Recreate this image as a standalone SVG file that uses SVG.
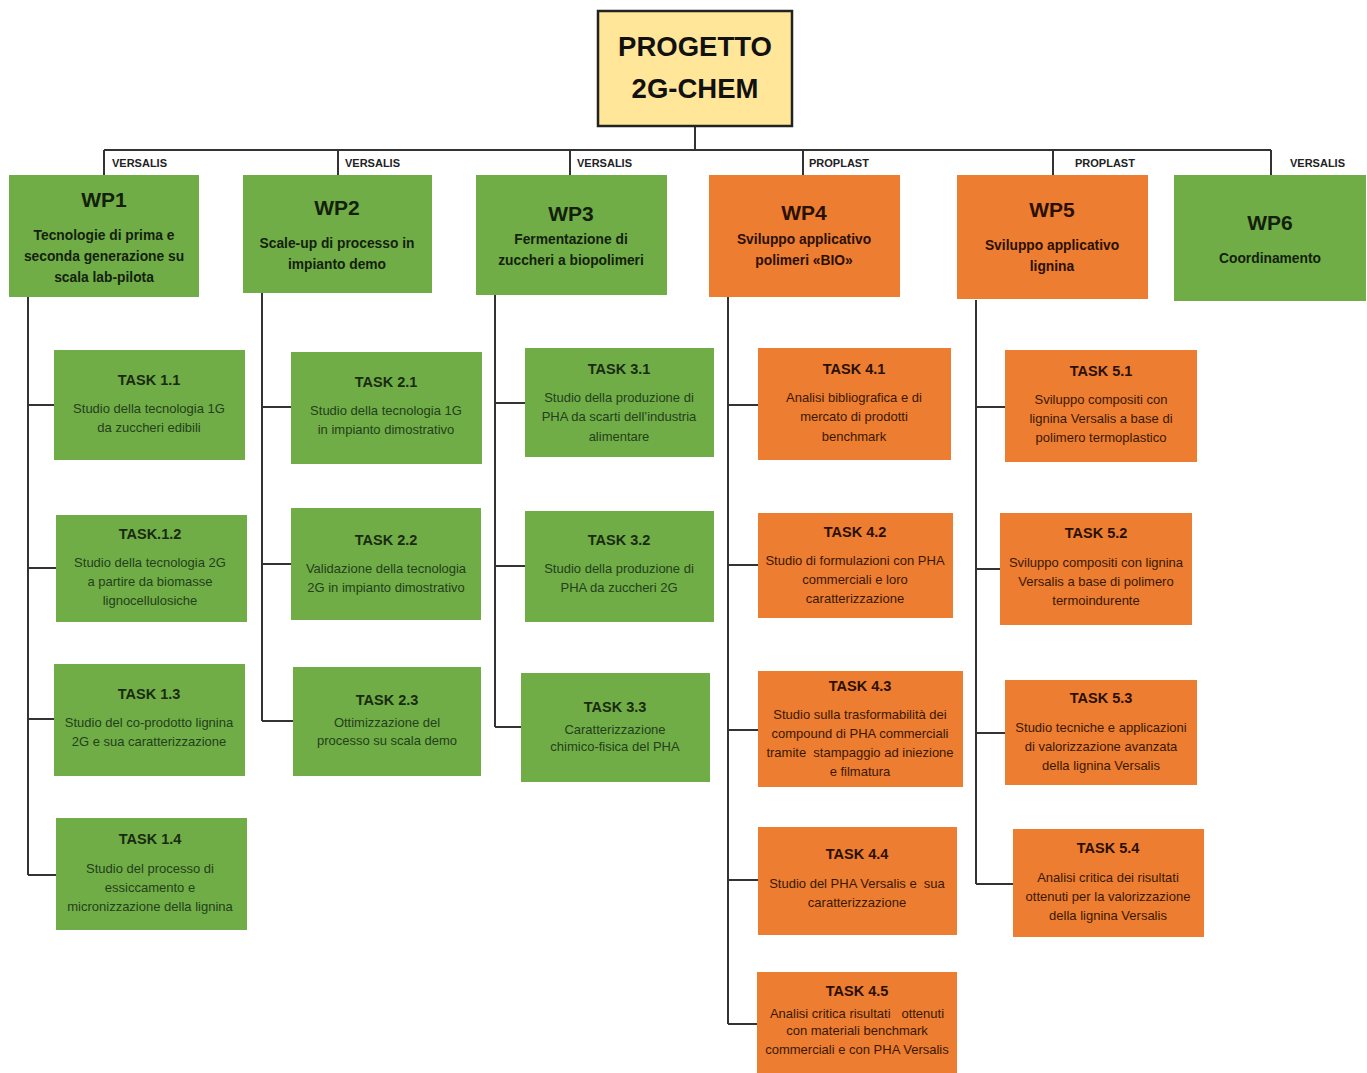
<svg xmlns="http://www.w3.org/2000/svg" width="1367" height="1073" viewBox="0 0 1367 1073">
<style>
text{font-family:"Liberation Sans",Arial,sans-serif;text-anchor:middle;dominant-baseline:central}
.pre{white-space:pre}
.g{fill:#70AD47}
.o{fill:#ED7D31}
.root{fill:#FFE699;stroke:#222;stroke-width:2.5}
.rt{font-size:27.5px;font-weight:bold;fill:#111}
.wpt{font-size:21px;font-weight:bold;fill:#141f0c}
.wpd{font-size:13.8px;font-weight:bold;fill:#141f0c}
.owpt{font-size:21px;font-weight:bold;fill:#2a1000}
.owpd{font-size:13.8px;font-weight:bold;fill:#2a1000}
.tt{font-size:14.5px;font-weight:bold;fill:#1a2a10}
.td{font-size:13px;fill:#24401a}
.ott{font-size:14.5px;font-weight:bold;fill:#2a1000}
.otd{font-size:13px;fill:#3a1800}
.lab{font-size:11px;font-weight:bold;fill:#222;text-anchor:start}
.ln{stroke:#333;stroke-width:2;fill:none}
</style>
<g id="connectors">
<path class="ln" d="M695 126V150M104 150H1271M104 150V175M338 150V175M570 150V175M803 150V175M1053 150V175M1271 150V175"/>
<path class="ln" d="M28 297V875M28 405H54M28 568H56M28 719H54M28 875H56"/>
<path class="ln" d="M262 293V721M262 407H291M262 564H291M262 721H293"/>
<path class="ln" d="M495 295V727M495 403H525M495 566H525M495 727H521"/>
<path class="ln" d="M728 297V1024M728 405H758M728 565H758M728 730H758M728 880H758M728 1024H757"/>
<path class="ln" d="M976 300V884M976 407H1005M976 569H1000M976 733H1005M976 884H1013"/>
</g>
<g id="labels">
<text class="lab" x="112" y="163">VERSALIS</text>
<text class="lab" x="345" y="163">VERSALIS</text>
<text class="lab" x="577" y="163">VERSALIS</text>
<text class="lab" x="809" y="163">PROPLAST</text>
<text class="lab" x="1075" y="163">PROPLAST</text>
<text class="lab" x="1290" y="163">VERSALIS</text>
</g>
<g id="root">
<rect class="root" x="598" y="11" width="194" height="115"/>
<text class="rt" x="695" y="46">PROGETTO</text>
<text class="rt" x="695" y="88">2G-CHEM</text>
</g>
<g id="wp1">
<rect class="g" x="9" y="175" width="190" height="122"/>
<text class="wpt" x="104" y="199">WP1</text>
<text class="wpd" x="104" y="235">Tecnologie di prima e</text>
<text class="wpd" x="104" y="256">seconda generazione su</text>
<text class="wpd" x="104" y="277">scala lab-pilota</text>
</g>
<g id="wp2">
<rect class="g" x="243" y="175" width="189" height="118"/>
<text class="wpt" x="337" y="207">WP2</text>
<text class="wpd" x="337" y="243">Scale-up di processo in</text>
<text class="wpd" x="337" y="264">impianto demo</text>
</g>
<g id="wp3">
<rect class="g" x="476" y="175" width="191" height="120"/>
<text class="wpt" x="571" y="213">WP3</text>
<text class="wpd" x="571" y="239">Fermentazione di</text>
<text class="wpd" x="571" y="260">zuccheri a biopolimeri</text>
</g>
<g id="wp4">
<rect class="o" x="709" y="175" width="191" height="122"/>
<text class="owpt" x="804" y="212">WP4</text>
<text class="owpd" x="804" y="239">Sviluppo applicativo</text>
<text class="owpd" x="804" y="260">polimeri «BIO»</text>
</g>
<g id="wp5">
<rect class="o" x="957" y="175" width="191" height="124"/>
<text class="owpt" x="1052" y="209">WP5</text>
<text class="owpd" x="1052" y="245">Sviluppo applicativo</text>
<text class="owpd" x="1052" y="266">lignina</text>
</g>
<g id="wp6">
<rect class="g" x="1174" y="175" width="192" height="126"/>
<text class="wpt" x="1270" y="222">WP6</text>
<text class="wpd" x="1270" y="258">Coordinamento</text>
</g>
<g id="t11">
<rect class="g" x="54" y="350" width="191" height="110"/>
<text class="tt" x="149" y="380">TASK 1.1</text>
<text class="td" x="149" y="408">Studio della tecnologia 1G</text>
<text class="td" x="149" y="427">da zuccheri edibili</text>
</g>
<g id="t12">
<rect class="g" x="56" y="515" width="191" height="107"/>
<text class="tt" x="150" y="534">TASK.1.2</text>
<text class="td" x="150" y="562">Studio della tecnologia 2G</text>
<text class="td" x="150" y="581">a partire da biomasse</text>
<text class="td" x="150" y="600">lignocellulosiche</text>
</g>
<g id="t13">
<rect class="g" x="54" y="664" width="191" height="112"/>
<text class="tt" x="149" y="694">TASK 1.3</text>
<text class="td" x="149" y="722">Studio del co-prodotto lignina</text>
<text class="td" x="149" y="741">2G e sua caratterizzazione</text>
</g>
<g id="t14">
<rect class="g" x="56" y="818" width="191" height="112"/>
<text class="tt" x="150" y="839">TASK 1.4</text>
<text class="td" x="150" y="868">Studio del processo di</text>
<text class="td" x="150" y="887">essiccamento e</text>
<text class="td" x="150" y="906">micronizzazione della lignina</text>
</g>
<g id="t21">
<rect class="g" x="291" y="352" width="191" height="112"/>
<text class="tt" x="386" y="382">TASK 2.1</text>
<text class="td" x="386" y="410">Studio della tecnologia 1G</text>
<text class="td" x="386" y="429">in impianto dimostrativo</text>
</g>
<g id="t22">
<rect class="g" x="291" y="508" width="190" height="112"/>
<text class="tt" x="386" y="540">TASK 2.2</text>
<text class="td" x="386" y="568">Validazione della tecnologia</text>
<text class="td" x="386" y="587">2G in impianto dimostrativo</text>
</g>
<g id="t23">
<rect class="g" x="293" y="667" width="188" height="109"/>
<text class="tt" x="387" y="700">TASK 2.3</text>
<text class="td" x="387" y="722">Ottimizzazione del</text>
<text class="td" x="387" y="740">processo su scala demo</text>
</g>
<g id="t31">
<rect class="g" x="525" y="348" width="189" height="109"/>
<text class="tt" x="619" y="369">TASK 3.1</text>
<text class="td" x="619" y="397">Studio della produzione di</text>
<text class="td" x="619" y="416">PHA da scarti dell’industria</text>
<text class="td" x="619" y="436">alimentare</text>
</g>
<g id="t32">
<rect class="g" x="525" y="511" width="189" height="111"/>
<text class="tt" x="619" y="540">TASK 3.2</text>
<text class="td" x="619" y="568">Studio della produzione di</text>
<text class="td" x="619" y="587">PHA da zuccheri 2G</text>
</g>
<g id="t33">
<rect class="g" x="521" y="673" width="189" height="109"/>
<text class="tt" x="615" y="707">TASK 3.3</text>
<text class="td" x="615" y="729">Caratterizzazione</text>
<text class="td" x="615" y="746">chimico-fisica del PHA</text>
</g>
<g id="t41">
<rect class="o" x="758" y="348" width="193" height="112"/>
<text class="ott" x="854" y="369">TASK 4.1</text>
<text class="otd" x="854" y="397">Analisi bibliografica e di</text>
<text class="otd" x="854" y="416">mercato di prodotti</text>
<text class="otd" x="854" y="436">benchmark</text>
</g>
<g id="t42">
<rect class="o" x="758" y="513" width="195" height="105"/>
<text class="ott" x="855" y="532">TASK 4.2</text>
<text class="otd" x="855" y="560">Studio di formulazioni con PHA</text>
<text class="otd" x="855" y="579">commerciali e loro</text>
<text class="otd" x="855" y="598">caratterizzazione</text>
</g>
<g id="t43">
<rect class="o" x="758" y="671" width="205" height="116"/>
<text class="ott" x="860" y="686">TASK 4.3</text>
<text class="otd" x="860" y="714">Studio sulla trasformabilità dei</text>
<text class="otd" x="860" y="733">compound di PHA commerciali</text>
<text class="otd pre" x="860" y="752">tramite  stampaggio ad iniezione</text>
<text class="otd" x="860" y="771">e filmatura</text>
</g>
<g id="t44">
<rect class="o" x="758" y="827" width="199" height="108"/>
<text class="ott" x="857" y="854">TASK 4.4</text>
<text class="otd pre" x="857" y="883">Studio del PHA Versalis e  sua</text>
<text class="otd" x="857" y="902">caratterizzazione</text>
</g>
<g id="t45">
<rect class="o" x="757" y="972" width="200" height="101"/>
<text class="ott" x="857" y="991">TASK 4.5</text>
<text class="otd pre" x="857" y="1013">Analisi critica risultati   ottenuti</text>
<text class="otd" x="857" y="1030">con materiali benchmark</text>
<text class="otd" x="857" y="1049">commerciali e con PHA Versalis</text>
</g>
<g id="t51">
<rect class="o" x="1005" y="350" width="192" height="112"/>
<text class="ott" x="1101" y="371">TASK 5.1</text>
<text class="otd" x="1101" y="399">Sviluppo compositi con</text>
<text class="otd" x="1101" y="418">lignina Versalis a base di</text>
<text class="otd" x="1101" y="437">polimero termoplastico</text>
</g>
<g id="t52">
<rect class="o" x="1000" y="513" width="192" height="112"/>
<text class="ott" x="1096" y="533">TASK 5.2</text>
<text class="otd" x="1096" y="562">Sviluppo compositi con lignina</text>
<text class="otd" x="1096" y="581">Versalis a base di polimero</text>
<text class="otd" x="1096" y="600">termoindurente</text>
</g>
<g id="t53">
<rect class="o" x="1005" y="680" width="192" height="105"/>
<text class="ott" x="1101" y="698">TASK 5.3</text>
<text class="otd" x="1101" y="727">Studio tecniche e applicazioni</text>
<text class="otd" x="1101" y="746">di valorizzazione avanzata</text>
<text class="otd" x="1101" y="765">della lignina Versalis</text>
</g>
<g id="t54">
<rect class="o" x="1013" y="829" width="191" height="108"/>
<text class="ott" x="1108" y="848">TASK 5.4</text>
<text class="otd" x="1108" y="877">Analisi critica dei risultati</text>
<text class="otd" x="1108" y="896">ottenuti per la valorizzazione</text>
<text class="otd" x="1108" y="915">della lignina Versalis</text>
</g>
</svg>
